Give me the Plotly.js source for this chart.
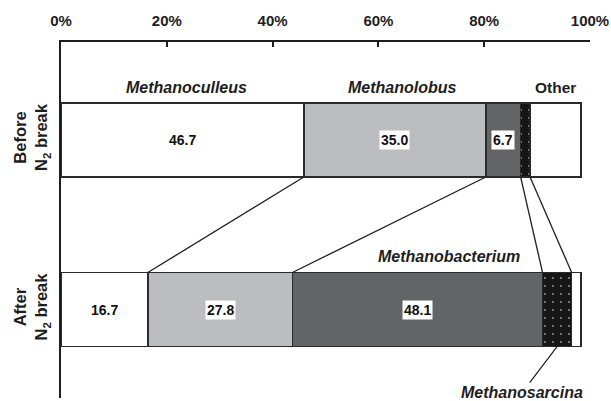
<!DOCTYPE html>
<html>
<head>
<meta charset="utf-8">
<script src="https://cdn.plot.ly/plotly-3.0.1.min.js"></script>
<style>html,body{margin:0;padding:0;background:#fff;}#chart{width:611px;height:401px;}</style>
</head>
<body>
<div id="chart"></div>
<script>
// ---- data ----
const groups = ["Before<br>N<sub>2</sub> break", "After<br>N<sub>2</sub> break"];
const genera = ["Methanoculleus", "Methanolobus", "Methanobacterium", "Methanosarcina", "Other"];
const beforeValues = [46.7, 35.0, 6.7, 1.8, 9.8];
const afterValues = [16.7, 27.8, 48.1, 5.6, 1.8];
const xTickValues = [0, 20, 40, 60, 80, 100];
const xTickLabels = ["0%", "20%", "40%", "60%", "80%", "100%"];

// ---- styles ----
const fills = ["#ffffff", "#bcbdc0", "#636466", "#161616", "#ffffff"];
const edge = "#2a2a2a";
const ink = "#1e1e1e";
const font = "Liberation Sans, Arial, sans-serif";
const bw = 0.437;
const yBefore = groups.length - 1 - 0;
const yAfter = groups.length - 1 - 1;

function cum(a) { const r = [0]; a.forEach(v => r.push(r[r.length - 1] + v)); return r; }
const cumB = cum(beforeValues), cumA = cum(afterValues);

const traces = [];
genera.forEach((g, i) => {
  const marker = { color: fills[i], line: { color: edge, width: 1.5 } };
  if (g === "Methanosarcina") {
    marker.pattern = { shape: ".", fgcolor: "#ffffff", bgcolor: fills[i], fillmode: "replace", size: 8, solidity: 0.03 };
  }
  traces.push({
    type: "bar", orientation: "h", name: g,
    x: [beforeValues[i], afterValues[i]], y: [yBefore, yAfter],
    width: bw, marker: marker, hoverinfo: "skip", showlegend: false,
    xaxis: "x", yaxis: "y"
  });
});
// connector lines between the bars
for (let k = 1; k < genera.length; k++) {
  traces.push({
    type: "scatter", mode: "lines",
    x: [cumB[k], cumA[k]], y: [yBefore - bw / 2, yAfter + bw / 2],
    line: { color: ink, width: 1.3 }, hoverinfo: "skip", showlegend: false,
    xaxis: "x", yaxis: "y"
  });
}
// invisible trace to hold the visible percentage axis
traces.push({ type: "scatter", mode: "markers", x: [0, 100], y: [null, null], xaxis: "x2", yaxis: "y", hoverinfo: "skip", showlegend: false });

const annotations = [];
function valueLabels(vals, c, y) {
  vals.forEach((v, i) => {
    if (i > 2) return;
    annotations.push({
      x: c[i] + v / 2, y: y, xref: "x", yref: "y", text: v.toFixed(1), showarrow: false,
      font: { family: font, size: 14, color: "#111", weight: "bold" },
      bgcolor: fills[i] === "#ffffff" ? "rgba(0,0,0,0)" : "#ffffff", borderpad: 1
    });
  });
}
valueLabels(beforeValues, cumB, yBefore);
valueLabels(afterValues, cumA, yAfter);

function nameLabel(idx, c, vals, y, italic, xshift) {
  annotations.push({
    x: c[idx] + vals[idx] / 2, y: y + bw / 2, xref: "x", yref: "y",
    text: genera[idx], showarrow: false, yanchor: "bottom", yshift: 5, xshift: xshift,
    font: { family: font, size: italic ? 16 : 15.5, color: ink, weight: "bold", style: italic ? "italic" : "normal" }
  });
}
nameLabel(0, cumB, beforeValues, yBefore, true, 4);
nameLabel(1, cumB, beforeValues, yBefore, true, 8);
nameLabel(4, cumB, beforeValues, yBefore, false, 0);
nameLabel(2, cumA, afterValues, yAfter, true, 32);
annotations.push({
  x: cumA[3] + afterValues[3] / 2, y: yAfter - bw / 2, xref: "x", yref: "y",
  text: genera[3], showarrow: true, arrowhead: 0, arrowwidth: 1.2, arrowcolor: ink,
  ax: -35, ay: 46, standoff: 0,
  font: { family: font, size: 16, color: ink, weight: "bold", style: "italic" }
});

const layout = {
  width: 611, height: 401,
  margin: { l: 61, r: 21, t: 42, b: 3 },
  paper_bgcolor: "#ffffff", plot_bgcolor: "#ffffff",
  barmode: "stack", bargap: 0,
  font: { family: font, color: ink },
  xaxis: { range: [0, 101.73], visible: false, fixedrange: true },
  xaxis2: {
    overlaying: "x", side: "top", range: [0, 100],
    tickvals: xTickValues, ticktext: xTickLabels,
    ticks: "inside", ticklen: 5, tickwidth: 2, tickcolor: ink,
    showline: true, linewidth: 2, linecolor: ink, showgrid: false, zeroline: false,
    ticklabelstandoff: 8,
    tickfont: { family: font, size: 15, color: ink, weight: "bold" }
  },
  yaxis: {
    range: [-0.522, 1.578], tickvals: [yBefore, yAfter], ticktext: groups,
    tickangle: -90, ticks: "", showline: true, linewidth: 2, linecolor: ink,
    showgrid: false, zeroline: false, ticklabelstandoff: 5,
    tickfont: { family: font, size: 16.5, color: ink, weight: "bold" }
  },
  annotations: annotations,
  showlegend: false
};

Plotly.newPlot("chart", traces, layout, { staticPlot: true, displayModeBar: false });
</script>
</body>
</html>
